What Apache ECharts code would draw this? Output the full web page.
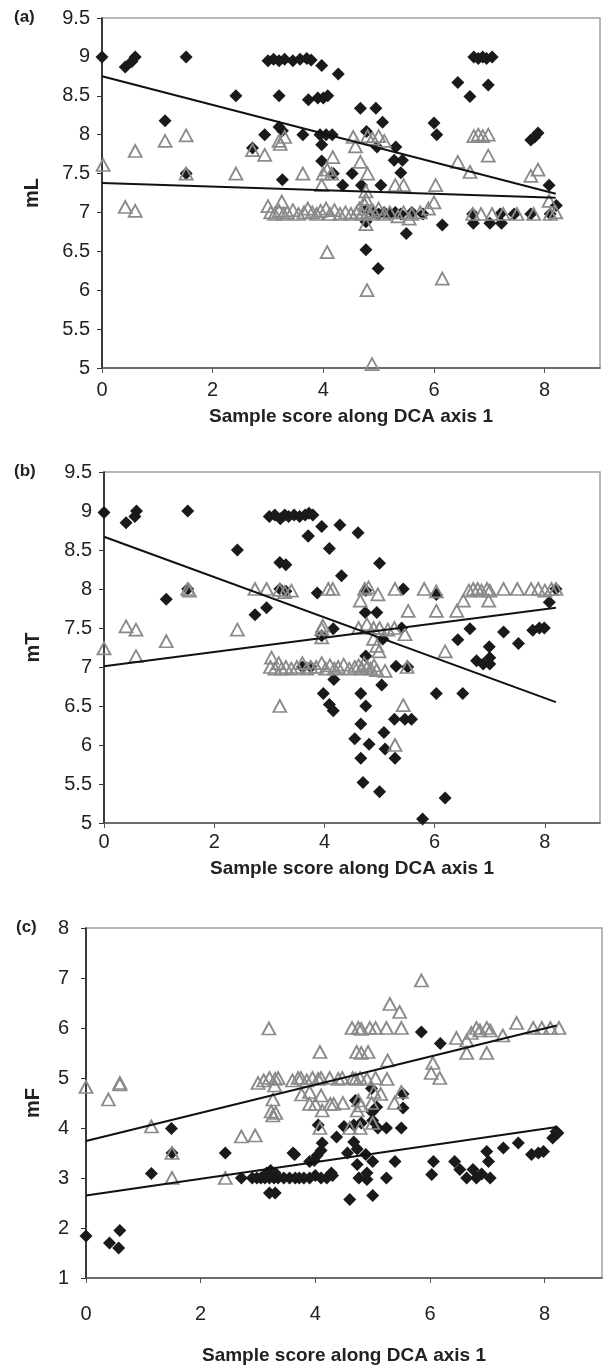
<!DOCTYPE html>
<html>
<head>
<meta charset="utf-8">
<script src="https://cdn.jsdelivr.net/npm/echarts@6/dist/echarts.min.js"></script>
<style>html,body{margin:0;padding:0;background:#fff;}#c{width:603px;height:1368px;}</style>
</head>
<body>
<div id="c"></div>
<script>
// ---------- DATA ----------
const xTicks = [0, 2, 4, 6, 8];
const xTitle = 'Sample score along DCA axis 1';
const panelLabels = ['(a)', '(b)', '(c)'];
const yNames = ['mL', 'mT', 'mF'];

// Panel (a) mL
const aDiamonds = [[0,9.0],[0.42,8.87],[0.54,8.94],[0.6,9.0],[1.52,9.0],[1.14,8.18],[1.52,7.5],[2.42,8.5],[2.72,7.83],[2.94,8.0],[3.2,8.5],[3.2,8.1],[3.26,8.05],[3.26,7.42],[3.63,8.0],[3.73,8.45],
[3.0,8.95],[3.1,8.97],[3.2,8.95],[3.3,8.97],[3.45,8.95],[3.58,8.97],[3.7,8.98],[3.78,8.96],
[3.97,8.89],[4.27,8.78],[3.9,8.47],[4.0,8.47],[4.08,8.5],[4.67,8.34],[4.95,8.34],[5.07,8.16],
[3.94,8.0],[4.05,8.0],[4.16,8.0],[3.97,7.87],[4.78,8.04],[4.97,7.84],[5.31,7.84],[5.28,7.67],[5.43,7.67],[5.4,7.51],[3.97,7.66],[4.18,7.5],[4.52,7.5],[4.35,7.35],[4.69,7.35],[5.04,7.35],[4.77,7.03],[4.77,6.88],[5.5,6.73],[4.77,6.52],[4.99,6.28],[6.0,8.15],[6.05,8.0],[6.15,6.84],[6.43,8.67],[6.65,8.49],[6.98,8.64],[6.72,9.0],[6.8,8.98],[6.88,9.0],[6.95,8.98],[7.05,9.0],[7.75,7.93],[7.82,7.97],[7.88,8.02],[8.08,7.35],[8.21,7.09],[6.71,6.86],[7.01,6.86],[7.22,6.86],
[4.9,7.0],[5.0,6.98],[5.1,7.0],[5.2,6.98],[5.3,7.0],[5.4,6.98],[5.6,7.0],[5.8,6.98],[6.7,6.98],[7.2,6.98],[7.45,6.98],[7.75,6.98],[8.1,6.98]];
const aTriangles = [[0.02,7.61],[0.42,7.07],[0.6,7.02],[0.6,7.79],[1.14,7.92],[1.52,7.99],[1.52,7.5],[2.42,7.5],[2.72,7.8],[2.94,7.74],[3.2,7.92],[3.3,7.97],[3.22,7.88],[3.63,7.5],[3.0,7.08],[3.25,7.14],
[4.54,7.97],[4.8,7.98],[4.89,7.95],[5.0,7.98],[4.58,7.85],[5.1,7.92],[4.17,7.71],[4.67,7.65],[4.0,7.5],[4.07,7.55],[4.15,7.5],[4.8,7.5],[3.97,7.35],[5.3,7.35],[5.45,7.35],[6.03,7.35],[6.0,7.13],[6.43,7.65],[6.65,7.52],[6.72,7.98],[6.8,8.0],[6.88,7.98],[6.98,8.0],[6.98,7.73],[7.75,7.47],[7.88,7.55],[8.08,7.15],[8.2,7.0],[4.07,6.49],[4.79,6.0],[6.15,6.15],[4.88,5.05],
[3.05,7.0],[3.12,6.98],[3.2,7.02],[3.28,6.98],[3.35,7.0],[3.45,7.03],[3.55,6.98],[3.65,7.0],[3.72,7.05],[3.8,7.0],[3.88,6.98],[3.95,7.02],[4.05,7.05],[4.12,6.98],[4.2,7.03],[4.3,6.98],[4.4,7.0],[4.5,6.98],[4.6,7.0],[4.65,7.05],[4.7,6.98],[4.75,7.1],[4.8,7.0],[4.85,6.98],[4.9,7.02],[5.0,7.05],[5.1,6.98],[5.2,7.0],[5.35,6.95],[5.45,7.0],[5.6,6.98],[5.75,7.0],[5.9,7.05],[6.7,6.98],[6.85,6.98],[7.05,6.98],[7.25,6.98],[7.5,6.98],[7.8,6.98],[8.1,6.98],
[4.77,7.17],[4.77,7.27],[4.77,6.85],[5.55,6.92]];
const aTrendDiamonds = [[0,8.75],[8.2,7.24]];
const aTrendTriangles = [[0,7.38],[8.2,7.19]];

// Panel (b) mT
const bDiamonds = [[0,8.98],[0.4,8.85],[0.56,8.93],[0.59,9.0],[1.52,9.0],[2.42,8.5],[1.13,7.87],[1.52,8.0],[2.74,7.67],[2.95,7.76],[3.19,8.34],[3.3,8.31],[3.19,8.0],[3.3,7.97],[3.7,8.68],
[3.0,8.93],[3.1,8.95],[3.2,8.9],[3.28,8.95],[3.35,8.93],[3.45,8.95],[3.55,8.93],[3.65,8.95],[3.72,8.97],[3.79,8.95],
[3.95,8.8],[4.28,8.82],[4.61,8.72],[3.71,8.68],[4.09,8.52],[5.0,8.33],[4.31,8.17],[3.87,7.95],[5.43,8.0],[6.03,7.93],[4.75,7.98],[8.2,8.0],[8.08,7.83],[4.74,7.7],[4.95,7.7],[4.16,7.49],[3.95,7.4],[5.06,7.36],[5.4,7.5],[6.64,7.49],[6.42,7.35],[7.25,7.45],[7.52,7.3],[7.78,7.47],[7.9,7.5],[7.99,7.5],[6.99,7.26],[7.0,7.12],[6.76,7.08],[6.88,7.04],[7.0,7.04],[4.75,7.14],[5.3,7.01],[5.51,7.0],[4.17,6.84],[5.04,6.77],[3.98,6.66],[4.66,6.66],[6.03,6.66],[6.51,6.66],[4.75,6.5],[4.09,6.52],[4.16,6.44],[5.27,6.33],[5.46,6.33],[5.58,6.33],[4.66,6.27],[5.08,6.16],[4.55,6.08],[4.81,6.01],[5.1,5.95],[4.66,5.83],[5.28,5.83],[4.7,5.52],[5.0,5.4],[6.19,5.32],[5.78,5.05],[3.6,7.0],[3.75,7.0]];
const bTriangles = [[0,7.24],[0.4,7.52],[0.58,7.48],[0.58,7.14],[1.13,7.33],[1.52,8.0],[1.55,7.98],[2.42,7.48],[2.74,8.0],[2.95,8.0],[3.19,7.99],[3.28,7.96],[3.04,7.12],[3.19,6.5],
[3.02,7.0],[3.1,6.98],[3.17,7.05],[3.22,6.98],[3.3,7.0],[3.4,6.98],[3.5,7.0],[3.6,7.05],[3.68,6.98],[3.75,7.0],
[3.4,7.98],[4.07,8.0],[4.15,8.0],[4.73,8.0],[4.8,8.02],[4.97,7.93],[4.65,7.85],[5.28,8.0],[5.81,8.0],[6.03,7.97],[6.52,7.85],[6.4,7.72],[6.03,7.72],[5.52,7.72],
[6.62,7.98],[6.7,8.0],[6.78,8.0],[6.85,7.98],[6.95,8.0],[7.0,7.98],[7.25,8.0],[7.5,8.0],[7.75,8.0],[7.88,8.0],[8.0,7.98],[8.12,8.0],[8.2,8.0],[6.98,7.85],
[3.95,7.49],[3.97,7.53],[3.95,7.38],[4.62,7.5],[4.77,7.55],[4.89,7.5],[5.0,7.5],[5.15,7.48],[5.27,7.5],[5.46,7.42],[4.89,7.36],[4.95,7.27],[6.19,7.2],[4.99,7.2],
[3.85,7.0],[3.95,7.05],[4.02,6.98],[4.1,7.02],[4.18,6.98],[4.25,7.0],[4.35,7.03],[4.45,6.98],[4.55,7.0],[4.62,7.02],[4.68,6.98],[4.72,7.05],[4.78,7.0],[4.84,6.98],[4.9,7.02],[4.95,6.96],[5.1,6.95],[5.5,7.0],
[5.43,6.51],[5.28,6.0]];
const bTrendDiamonds = [[0,8.67],[8.2,6.55]];
const bTrendTriangles = [[0,7.01],[8.2,7.76]];

// Panel (c) mF
const cDiamonds = [[0,1.84],[0.59,1.95],[0.41,1.7],[0.57,1.6],[1.14,3.09],[1.49,3.99],[1.5,3.5],[2.43,3.5],[2.71,3.0],
[2.9,3.0],[2.98,3.0],[3.05,3.0],[3.12,3.0],[3.2,3.0],[3.28,3.0],[3.35,3.0],[3.45,3.0],[3.55,3.0],[3.65,3.0],[3.72,3.0],[3.8,3.0],[3.9,3.0],
[3.15,3.1],[3.22,3.15],[3.3,3.1],[3.2,2.7],[3.3,2.7],[3.61,3.5],[3.9,3.33],
[5.85,5.92],[6.18,5.69],[4.98,4.79],[4.7,4.55],[5.53,4.68],[5.07,4.42],[4.99,4.32],[5.53,4.4],[4.67,4.06],[4.8,4.1],[5.0,4.15],[4.05,4.06],[5.09,4.0],[5.24,4.0],[5.5,4.0],[4.5,4.03],[4.37,3.82],[4.12,3.7],[4.1,3.55],[4.03,3.45],[3.64,3.47],[3.98,3.35],[4.67,3.72],[4.73,3.58],[4.88,3.47],[4.56,3.5],[5.0,3.33],[5.39,3.33],[4.73,3.27],[4.9,3.1],[4.28,3.1],[5.24,3.0],[4.76,3.0],[4.9,2.97],[4.0,3.05],[4.1,3.0],[4.2,3.0],[4.3,3.05],[4.6,2.57],[5.0,2.65],
[6.06,3.33],[6.03,3.07],[6.43,3.33],[6.52,3.17],[6.64,3.0],[6.75,3.17],[6.81,3.0],[6.9,3.08],[7.05,3.0],[7.02,3.33],[6.99,3.53],[7.28,3.6],[7.54,3.7],[7.77,3.47],[7.89,3.5],[7.98,3.53],[8.14,3.8],[8.23,3.9],[8.2,3.93]];
const cTriangles = [[0,4.82],[0.39,4.57],[0.59,4.9],[0.59,4.87],[1.14,4.03],[1.5,3.5],[1.5,3.0],[2.43,3.0],[2.71,3.83],[2.95,3.85],[3.19,5.99],
[3.0,4.9],[3.1,4.95],[3.2,5.0],[3.3,4.98],[3.35,5.0],[3.6,4.95],[3.7,5.0],[3.75,5.0],[3.85,4.95],
[3.29,4.85],[3.26,4.57],[3.23,4.33],[3.31,4.3],[3.26,4.25],[3.76,4.67],[3.9,4.48],
[5.85,6.95],[5.3,6.48],[5.47,6.32],[4.64,6.0],[4.75,6.0],[4.8,5.98],[4.95,6.0],[5.05,6.0],[5.24,6.0],[5.5,6.0],[4.08,5.52],[4.72,5.52],[4.8,5.5],[4.92,5.52],[5.26,5.35],
[3.95,5.0],[4.05,4.98],[4.1,5.0],[4.25,5.0],[4.4,4.98],[4.47,5.0],[4.65,5.0],[4.7,4.98],[4.78,5.0],[4.9,4.98],[5.05,5.0],[5.25,4.98],
[3.9,4.72],[4.1,4.65],[4.0,4.48],[4.26,4.48],[4.32,4.48],[4.12,4.35],[4.48,4.5],[4.75,4.55],[4.98,4.5],[4.73,4.35],[4.8,4.45],[5.02,4.72],[5.14,4.68],[5.38,4.5],[5.5,4.72],[4.08,4.0],[4.6,4.0],[4.78,4.0],[5.0,4.1],
[6.05,5.3],[6.02,5.1],[6.17,5.0],[6.46,5.8],[6.64,5.75],[6.72,5.9],[6.81,6.0],[6.87,5.95],[6.99,6.0],[7.05,5.95],[7.27,5.85],[6.64,5.5],[6.99,5.5],[7.51,6.1],[7.8,6.0],[7.95,6.0],[8.1,6.0],[8.25,6.0]];
const cTrendDiamonds = [[0,2.65],[8.21,4.02]];
const cTrendTriangles = [[0,3.74],[8.21,6.05]];

const yRanges = [[5, 9.5, 0.5], [5, 9.5, 0.5], [1, 8, 1]];

// ---------- CHART ----------
const FONT = '"Liberation Sans", Arial, Helvetica, sans-serif';
const TXT = '#222';
const grids = [
  {left: 102, top: 18, width: 498, height: 350},
  {left: 104, top: 472, width: 496, height: 351},
  {left: 86, top: 928, width: 516, height: 350}
];
const xLabelMargin = [12, 9, 26];
const xNameGap = [39, 36, 68];
const yLabelMargin = [12, 12, 17];
const yNameGap = [60, 61, 43];

const panels = [
  [aDiamonds, aTriangles, aTrendDiamonds, aTrendTriangles],
  [bDiamonds, bTriangles, bTrendDiamonds, bTrendTriangles],
  [cDiamonds, cTriangles, cTrendDiamonds, cTrendTriangles]
];

const option = {
  animation: false,
  backgroundColor: '#fff',
  textStyle: {fontFamily: FONT},
  grid: grids.map(g => Object.assign({show: true, borderColor: '#a0a0a0', borderWidth: 1.5, backgroundColor: 'transparent', containLabel: false}, g)),
  xAxis: grids.map((g, i) => ({
    type: 'value', gridIndex: i, min: 0, max: 9,
    axisLine: {show: true, onZero: false, lineStyle: {color: '#555', width: 1.5}},
    axisTick: {show: true, inside: false, length: 5, customValues: xTicks, lineStyle: {color: '#555'}},
    axisLabel: {customValues: xTicks, margin: xLabelMargin[i], fontSize: 20, color: TXT, fontFamily: FONT},
    splitLine: {show: false},
    name: xTitle, nameLocation: 'middle', nameGap: xNameGap[i],
    nameTextStyle: {fontSize: 19, fontWeight: 'bold', color: TXT, fontFamily: FONT}
  })),
  yAxis: grids.map((g, i) => ({
    type: 'value', gridIndex: i, min: yRanges[i][0], max: yRanges[i][1], interval: yRanges[i][2],
    axisLine: {show: true, onZero: false, lineStyle: {color: '#111', width: 1.5}},
    axisTick: {show: true, inside: false, length: 5, lineStyle: {color: '#333'}},
    axisLabel: {margin: yLabelMargin[i], fontSize: 20, color: TXT, fontFamily: FONT},
    splitLine: {show: false},
    name: yNames[i], nameLocation: 'middle', nameGap: yNameGap[i],
    nameTextStyle: {fontSize: 20, fontWeight: 'bold', color: TXT, fontFamily: FONT}
  })),
  graphic: panelLabels.map((t, i) => ({
    type: 'text', left: [14, 14, 16][i], top: grids[i].top - 9,
    style: {text: t, font: 'bold 17px ' + FONT, fill: TXT}
  })),
  series: []
};

panels.forEach((p, i) => {
  option.series.push({
    type: 'scatter', xAxisIndex: i, yAxisIndex: i, data: p[0],
    symbol: 'diamond', symbolSize: 13, itemStyle: {color: '#1a1a1a', opacity: 1}, z: 2
  });
  option.series.push({
    type: 'scatter', xAxisIndex: i, yAxisIndex: i, data: p[1],
    symbol: 'triangle', symbolSize: [13, 12],
    itemStyle: {color: 'rgba(255,255,255,0)', borderColor: '#8a8a8a', borderWidth: 1.8, opacity: 1}, z: 3
  });
  [p[2], p[3]].forEach(tr => option.series.push({
    type: 'line', xAxisIndex: i, yAxisIndex: i, data: tr,
    showSymbol: false, symbol: 'none', lineStyle: {color: '#111', width: 2}, z: 4, silent: true
  }));
});

const chart = echarts.init(document.getElementById('c'), null, {renderer: 'canvas'});
chart.setOption(option);
</script>
</body>
</html>
